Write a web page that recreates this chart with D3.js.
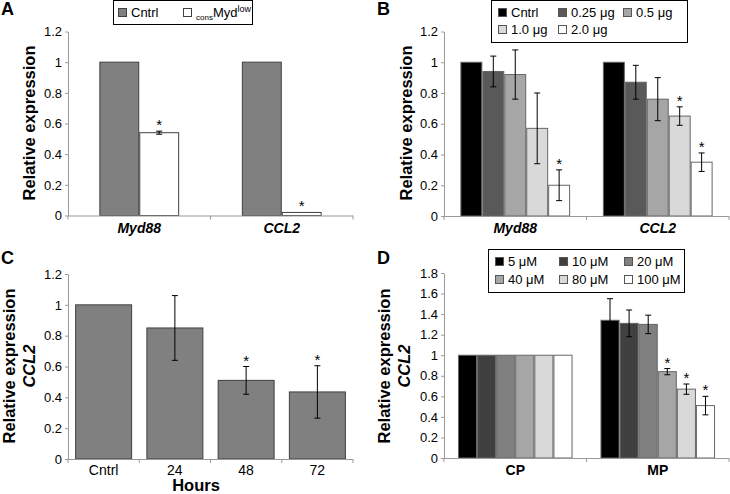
<!DOCTYPE html>
<html><head><meta charset="utf-8">
<script src="https://cdn.jsdelivr.net/npm/d3@7/dist/d3.min.js"></script>
<style>
body{margin:0;background:#fff;}
svg{display:block;font-family:Arial,"Liberation Sans",sans-serif;}
</style></head>
<body>
<svg id="chart" width="730" height="494"></svg>
<script>
// ---------- DATA ----------
// Panel A
const aCategories = ["Myd88", "CCL2"];
const aSeries = ["Cntrl", "consMydlow"];
const aValues = [[1, 1], [0.54, 0.02]];
const aErrors = [[0, 0], [0.01, 0]];
const aStars = [[false, false], [true, true]];
const aFills = ["#808080", "#ffffff"];

// Panel B
const bCategories = ["Myd88", "CCL2"];
const bSeries = ["Cntrl", "0.25 μg", "0.5 μg", "1.0 μg", "2.0 μg"];
const bValues = [[1, 1], [0.94, 0.87], [0.92, 0.76], [0.57, 0.65], [0.20, 0.35]];
const bErrors = [[0, 0], [0.10, 0.11], [0.16, 0.14], [0.23, 0.06], [0.10, 0.06]];
const bStars = [[false, false], [false, false], [false, false], [false, true], [true, true]];
const bFills = ["#000000", "#595959", "#a6a6a6", "#d9d9d9", "#ffffff"];

// Panel C
const cCategories = ["Cntrl", "24", "48", "72"];
const cValues = [1, 0.85, 0.51, 0.435];
const cErrors = [0, 0.21, 0.09, 0.17];
const cStars = [false, false, true, true];

// Panel D
const dCategories = ["CP", "MP"];
const dSeries = ["5 μM", "10 μM", "20 μM", "40 μM", "80 μM", "100 μM"];
const dValues = [[1, 1.34], [1, 1.31], [1, 1.30], [1, 0.84], [1, 0.67], [1, 0.51]];
const dErrors = [[0, 0.21], [0, 0.13], [0, 0.09], [0, 0.03], [0, 0.05], [0, 0.09]];
const dStars = [[false, false], [false, false], [false, false], [false, true], [false, true], [false, true]];
const dFills = ["#000000", "#404040", "#808080", "#a6a6a6", "#d9d9d9", "#ffffff"];

// Tick labels
const yTicks12 = [0, 0.2, 0.4, 0.6, 0.8, 1, 1.2];
const yTickLabels12 = ["0", "0.2", "0.4", "0.6", "0.8", "1", "1.2"];
const yTicks18 = [0, 0.2, 0.4, 0.6, 0.8, 1, 1.2, 1.4, 1.6, 1.8];
const yTickLabels18 = ["0", "0.2", "0.4", "0.6", "0.8", "1", "1.2", "1.4", "1.6", "1.8"];

// ---------- DRAWING ----------
const svg = d3.select("#chart");
const AXIS = "#999";

function panel(o) {
  const g = svg.append("g");
  const y = d3.scaleLinear().domain([0, o.yMax]).range([o.bottom, o.top]);
  const x0 = d3.scaleBand().domain(o.categories).range([o.left, o.right]).padding(0);
  const step = x0.bandwidth();
  const gap = step * o.pad;
  const x1 = d3.scaleBand().domain(o.series).range([gap / 2, step - gap / 2]).padding(0);

  // bars
  o.series.forEach((s, si) => {
    o.categories.forEach((c, ci) => {
      const v = o.values[si][ci];
      const bx = x0(c) + x1(s);
      g.append("rect")
        .attr("x", bx + 0.5).attr("y", y(v))
        .attr("width", x1.bandwidth() - 1).attr("height", y(0) - y(v))
        .attr("fill", o.fills[si]).attr("stroke", o.stroke).attr("stroke-width", 1);
      const e = o.errors[si][ci];
      const cx = bx + x1.bandwidth() / 2;
      if (e > 0) {
        g.append("line").attr("x1", cx).attr("x2", cx).attr("y1", y(v - e)).attr("y2", y(v + e))
          .attr("stroke", "#000").attr("stroke-width", 1);
        [v - e, v + e].forEach(t => g.append("line").attr("x1", cx - 3).attr("x2", cx + 3)
          .attr("y1", y(t)).attr("y2", y(t)).attr("stroke", "#000").attr("stroke-width", 1));
      }
      if (o.stars[si][ci]) {
        g.append("text").attr("x", cx).attr("y", y(v + e) - 1).attr("text-anchor", "middle")
          .attr("font-size", 15).attr("fill", "#000").text("*");
      }
    });
  });

  // y axis
  const ya = d3.axisLeft(y).tickValues(o.ticks).tickSize(3).tickSizeOuter(0).tickPadding(3)
    .tickFormat((d, i) => o.tickLabels[i]);
  const yg = g.append("g").attr("transform", `translate(${o.left},0)`).call(ya);
  yg.select(".domain").attr("stroke", AXIS);
  yg.selectAll(".tick line").attr("stroke", AXIS);
  yg.selectAll(".tick text").attr("font-size", 13).attr("fill", "#000")
    .attr("font-family", "Arial, 'Liberation Sans', sans-serif");

  // x axis
  g.append("line").attr("x1", o.left).attr("x2", o.right).attr("y1", o.bottom + 0.5).attr("y2", o.bottom + 0.5)
    .attr("stroke", AXIS);
  const bounds = o.categories.map(c => x0(c)).concat([o.right]);
  bounds.forEach(b => g.append("line").attr("x1", b).attr("x2", b)
    .attr("y1", o.bottom).attr("y2", o.bottom + 4).attr("stroke", AXIS));
  o.categories.forEach(c => {
    g.append("text").attr("x", x0(c) + step / 2).attr("y", o.bottom + o.catDy)
      .attr("text-anchor", "middle").attr("font-size", o.catSize)
      .attr("font-weight", o.catWeight).attr("font-style", o.catStyle).attr("fill", "#000").text(c);
  });
  return g;
}

function yTitle(x, cy, lines) {
  const t = svg.append("text").attr("transform", `translate(${x},${cy}) rotate(-90)`)
    .attr("text-anchor", "middle").attr("font-weight", "bold").attr("font-size", 16.5).attr("fill", "#000");
  lines.forEach((l, i) => {
    t.append("tspan").attr("x", 0).attr("dy", i === 0 ? 0 : 20)
      .attr("font-style", i === 0 ? "normal" : "italic").text(l);
  });
}

function label(x, y, s) {
  svg.append("text").attr("x", x).attr("y", y).attr("font-size", 18).attr("font-weight", "bold").text(s);
}

function legendBox(x, y, w, h) {
  svg.append("rect").attr("x", x + 0.5).attr("y", y + 0.5).attr("width", w).attr("height", h)
    .attr("fill", "#fff").attr("stroke", "#000").attr("stroke-width", 1);
}
function legendItem(x, cy, fill, stroke, text) {
  svg.append("rect").attr("x", x + 0.5).attr("y", cy - 4 + 0.5).attr("width", 8).attr("height", 8)
    .attr("fill", fill).attr("stroke", stroke);
  return svg.append("text").attr("x", x + 13).attr("y", cy + 4.5).attr("font-size", 13).attr("fill", "#000").text(text);
}

// Panel A
panel({left: 68, right: 353, top: 31.5, bottom: 215.5, yMax: 1.2, ticks: yTicks12, tickLabels: yTickLabels12,
  categories: aCategories, series: aSeries, values: aValues, errors: aErrors, stars: aStars,
  fills: aFills, stroke: "#404040", pad: 0.44, catDy: 17, catSize: 14, catWeight: "bold", catStyle: "italic"});
yTitle(35, 123, ["Relative expression"]);
label(1, 15, "A");
legendBox(113, 0, 139, 24);
legendItem(118, 12, aFills[0], "#404040", aSeries[0]);
const la = legendItem(183, 12, aFills[1], "#404040", "");
la.append("tspan").attr("font-size", 8).attr("dy", 3).text("cons");
la.append("tspan").attr("font-size", 13).attr("dy", -3).text("Myd");
la.append("tspan").attr("font-size", 9).attr("dy", -5).text("low");

// Panel B
panel({left: 444, right: 729, top: 31.5, bottom: 216, yMax: 1.2, ticks: yTicks12, tickLabels: yTickLabels12,
  categories: bCategories, series: bSeries, values: bValues, errors: bErrors, stars: bStars,
  fills: bFills, stroke: "#666", pad: 0.23, catDy: 17, catSize: 14, catWeight: "bold", catStyle: "italic"});
yTitle(412, 123, ["Relative expression"]);
label(377, 15, "B");
legendBox(491, 0, 196, 42);
[[0, 498, 12], [1, 558, 12], [2, 623, 12], [3, 498, 29], [4, 558, 29]].forEach(([i, x, cy]) =>
  legendItem(x, cy, bFills[i], "#555", bSeries[i]));

// Panel C
panel({left: 68, right: 353, top: 274, bottom: 459, yMax: 1.2, ticks: yTicks12, tickLabels: yTickLabels12,
  categories: cCategories, series: ["v"], values: [cValues], errors: [cErrors], stars: [cStars],
  fills: ["#808080"], stroke: "#404040", pad: 0.2, catDy: 16, catSize: 14, catWeight: "normal", catStyle: "normal"});
yTitle(15, 366, ["Relative expression", "CCL2"]);
svg.append("text").attr("x", 196).attr("y", 491).attr("text-anchor", "middle").attr("font-size", 16.5)
  .attr("font-weight", "bold").text("Hours");
label(1, 264, "C");

// Panel D
panel({left: 444, right: 729, top: 273, bottom: 458, yMax: 1.8, ticks: yTicks18, tickLabels: yTickLabels18,
  categories: dCategories, series: dSeries, values: dValues, errors: dErrors, stars: dStars,
  fills: dFills, stroke: "#666", pad: 0.196, catDy: 17, catSize: 14, catWeight: "bold", catStyle: "normal"});
yTitle(390, 366, ["Relative expression", "CCL2"]);
label(377, 264, "D");
legendBox(488, 249, 196, 43);
[[0, 495, 261], [1, 559, 261], [2, 624, 261], [3, 495, 279], [4, 559, 279], [5, 624, 279]].forEach(([i, x, cy]) =>
  legendItem(x, cy, dFills[i], "#555", dSeries[i]));
</script>
</body></html>
